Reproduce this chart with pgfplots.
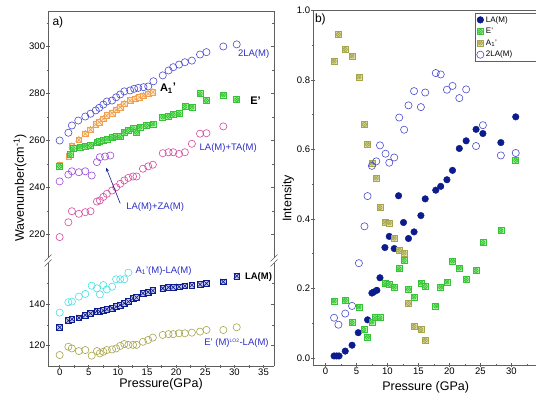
\documentclass[border=0pt]{standalone}
\usepackage{fontspec}
\setmainfont{Liberation Sans}
\usepackage{pgfplots}
\pgfplotsset{compat=1.18}

\definecolor{navy}{RGB}{12,28,140}
\definecolor{bluecirc}{RGB}{75,75,205}
\definecolor{labblue}{RGB}{45,45,200}
\definecolor{orng}{RGB}{240,160,80}
\definecolor{orngfill}{RGB}{253,235,212}
\definecolor{grn}{RGB}{55,195,55}
\definecolor{grnfill}{RGB}{170,245,160}
\definecolor{pinkc}{RGB}{210,75,155}
\definecolor{violc}{RGB}{155,75,215}
\definecolor{cyanc}{RGB}{70,225,225}
\definecolor{olivec}{RGB}{165,165,75}
\definecolor{olivefill}{RGB}{228,225,180}
\definecolor{lafill}{RGB}{200,200,238}
\definecolor{axgray}{RGB}{95,95,95}

% square with a cross
\pgfdeclareplotmark{sqx}{%
  \pgfpathrectangle{\pgfpoint{-\pgfplotmarksize}{-\pgfplotmarksize}}{\pgfpoint{2\pgfplotmarksize}{2\pgfplotmarksize}}%
  \pgfusepathqfillstroke
  \pgfpathmoveto{\pgfpoint{-\pgfplotmarksize}{-\pgfplotmarksize}}%
  \pgfpathlineto{\pgfpoint{\pgfplotmarksize}{\pgfplotmarksize}}%
  \pgfpathmoveto{\pgfpoint{-\pgfplotmarksize}{\pgfplotmarksize}}%
  \pgfpathlineto{\pgfpoint{\pgfplotmarksize}{-\pgfplotmarksize}}%
  \pgfusepathqstroke
}
% square with a crossed circle
\pgfdeclareplotmark{sqox}{%
  \pgfpathrectangle{\pgfpoint{-\pgfplotmarksize}{-\pgfplotmarksize}}{\pgfpoint{2\pgfplotmarksize}{2\pgfplotmarksize}}%
  \pgfusepathqfillstroke
  \pgfpathcircle{\pgfpointorigin}{0.72\pgfplotmarksize}%
  \pgfpathmoveto{\pgfpoint{-0.5\pgfplotmarksize}{-0.5\pgfplotmarksize}}%
  \pgfpathlineto{\pgfpoint{0.5\pgfplotmarksize}{0.5\pgfplotmarksize}}%
  \pgfpathmoveto{\pgfpoint{-0.5\pgfplotmarksize}{0.5\pgfplotmarksize}}%
  \pgfpathlineto{\pgfpoint{0.5\pgfplotmarksize}{-0.5\pgfplotmarksize}}%
  \pgfusepathqstroke
}

\tikzset{
  lab/.style={font=\fontsize{9.5}{11}\selectfont, text=labblue, inner sep=0pt, anchor=west},
}
\pgfplotsset{
  base/.style={
    scale only axis, anchor=south west, clip mode=individual,
    /pgf/number format/assume math mode=true,
    tick label style={font=\fontsize{9.5}{11}\selectfont, inner sep=1pt},
    label style={font=\fontsize{12.5}{14}\selectfont},
    axis line style={axgray, line width=0.8pt},
    tick style={axgray, line width=0.6pt},
    major tick length=3.5pt, minor tick length=2.5pt,
    tick align=outside,
  },
  circ/.style={only marks, mark=o, mark size=3.6pt, mark options={line width=0.6pt}},
}

\begin{document}
\begin{tikzpicture}
% the page is exactly this box; whatever lies outside it is cut off
\useasboundingbox (0,0) rectangle (536pt,394pt);

%% ---------- panel a), upper part ----------
\begin{axis}[base, at={(48pt,136pt)}, width=226pt, height=246.75pt,
  xmin=-2, xmax=36.8, ymin=210, ymax=315,
  axis x line=top, axis y line=left, axis line style={-},
  xtick=\empty, ytick={220,240,...,300}, minor ytick={230,250,...,310}]
\addplot[circ, bluecirc] coordinates {(0,260)(1.5,263.3)(2.1,266.4)(3.2,268.5)(4.4,270.2)(5.3,271.4)(6.2,272.8)(6.8,273.9)(7.5,275.3)(8.1,276.6)(9.0,277)(9.7,278.4)(10.4,279.6)(11.1,280.9)(12.1,281.3)(12.8,282)(13.5,282.4)(14.4,282.7)(15.2,283)(16.1,285.2)(17.7,287.7)(18.7,289.8)(19.5,291.2)(20.5,292.3)(21.5,293.3)(22.7,294)(24.1,296.6)(25.2,297.6)(28.1,300)(30.4,300.9)};
\addplot[only marks, mark=triangle, mark size=3.4pt, mark options={draw=orng, line width=0.6pt}] coordinates {(0,249.4)(1.6,253.2)(2.1,257.6)(3.3,260.3)(4.4,262.9)(5.3,264.6)(6.2,266.8)(6.8,267.8)(7.5,269.2)(8.1,270.6)(9.0,271.6)(9.7,273)(10.4,274.2)(11.1,275.6)(12.1,277)(13.0,277.7)(13.7,278.4)(14.4,279.1)(15.2,279.9)(16.0,280.6)};
\addplot[only marks, mark=sqx, mark size=2.8pt, mark options={draw=orng, fill=orngfill, line width=0.6pt}] coordinates {(0,249.4)(1.6,253.2)(2.1,257.6)(3.3,260.3)(4.4,262.9)(5.3,264.6)(6.2,266.8)(6.8,267.8)(7.5,269.2)(8.1,270.6)(9.0,271.6)(9.7,273)(10.4,274.2)(11.1,275.6)(12.1,277)(13.0,277.7)(13.7,278.4)(14.4,279.1)(15.2,279.9)(16.0,280.6)};
\addplot[only marks, mark=sqox, mark size=3pt, mark options={draw=grn, fill=grnfill, line width=0.6pt}] coordinates {(0,249)(1.8,254)(2.3,256.5)(3.5,257.2)(4.4,257.6)(5.3,257.9)(6.4,259.3)(6.8,259.6)(7.5,260.1)(8.1,260.7)(9.0,261.2)(9.7,261.6)(10.4,261.6)(11.1,263.5)(11.8,264.3)(12.6,265)(13.2,263.5)(13.8,265.7)(14.9,266.4)(16.0,267.1)(17.7,270)(18.7,270.3)(19.5,271.1)(20.5,271.4)(21.5,274.5)(22.7,274.2)(24.1,279.9)(25.2,277)(28.1,279.4)(30.4,277.4)};
\addplot[circ, pinkc] coordinates {(0,218.9)(1.5,225.2)(2.1,229.9)(3.3,228.8)(4.4,229.5)(5.3,229.9)(6.4,234)(6.9,234.5)(7.5,236)(8.1,237.3)(9.0,238.7)(9.7,240.1)(10.4,241.6)(11.1,243)(11.8,244.1)(12.6,244.7)(13.2,244.7)(14.3,248)(15.2,249)(16.0,249.7)(17.7,254.6)(18.7,255)(19.5,255)(20.5,254.3)(21.5,255)(22.7,258.6)(24.1,262.9)(25.2,263.1)(28.1,266)};
\addplot[circ, violc] coordinates {(0,242.6)(1.5,245.5)(2.1,246.9)(3.3,246.5)(4.4,246.9)(5.5,245.1)(6.4,250.8)(6.9,252.9)(7.8,253.2)(8.7,253.6)};
\draw[-stealth, navy, line width=0.6pt] (axis cs:10.4,233.2) -- (axis cs:8.0,248.3);
\node[lab, text=black, font=\fontsize{12}{14}\selectfont] at (axis cs:-1.25,310.2) {a)};
\node[lab] at (axis cs:30.6,296.6) {2LA(M)};
\node[lab, text=black, font=\bfseries\fontsize{11}{13}\selectfont] at (axis cs:17.2,282.3) {A\textsubscript{1}\raisebox{1.5pt}{'}};
\node[lab, text=black, font=\bfseries\fontsize{11}{13}\selectfont] at (axis cs:32.7,277) {E'};
\node[lab] at (axis cs:24,256.6) {LA(M)+TA(M)};
\node[lab] at (axis cs:11.4,231.6) {LA(M)+ZA(M)};
\end{axis}
\begin{axis}[base, at={(48pt,136pt)}, width=226pt, height=246.75pt,
  xmin=-2, xmax=36.8, ymin=210, ymax=315,
  axis x line=none, axis y line*=right, axis line style={-}, tick align=inside,
  xtick=\empty, ytick={220,240,...,300}, minor ytick={230,250,...,310}, yticklabels={}]
\end{axis}

%% ---------- panel a), lower part ----------
\begin{axis}[base, at={(48pt,27.6pt)}, width=226pt, height=103.5pt,
  xmin=-2, xmax=36.8, ymin=110, ymax=160,
  axis x line=bottom, axis y line=left, axis line style={-},
  xtick={0,5,...,35}, minor x tick num=1,
  ytick={120,140}, minor ytick={130,150},
  xlabel={Pressure(GPa)},
  xlabel style={at={(axis description cs:0.5,0)}, anchor=center, yshift=-17.6pt}]
\addplot[circ, cyanc] coordinates {(0,136)(1.5,141)(2.1,141.3)(3.3,143.7)(4.4,145)(5.5,149)(6.4,147.7)(6.9,144.8)(7.5,149.3)(8.1,147.2)(9.0,148.5)(9.7,152.1)(10.4,152.1)(11.1,152.1)(11.8,155.3)};
\addplot[only marks, mark=sqx, mark size=2.9pt, mark options={draw=navy, fill=lafill, line width=0.6pt}] coordinates {(0,128.9)(1.5,132.1)(2.1,132.8)(3.3,133.5)(4.4,134.8)(5.3,135.6)(6.4,136.8)(6.9,136.5)(7.5,137)(8.1,137.6)(9.0,138.1)(9.7,138.9)(10.4,139.7)(11.1,140.5)(11.8,141.3)(12.6,142.9)(13.2,143.3)(14.3,145.3)(15.2,145.9)(16.0,146.6)(17.7,147.7)(18.7,148.2)(19.5,148.2)(20.5,148.5)(21.5,148.9)(22.7,149.3)(24.1,149.6)(25.2,150.1)(28.1,150.9)(30.4,153.7)};
\addplot[circ, olivec] coordinates {(0,115.5)(1.5,119.5)(2.1,118.7)(3.3,117.4)(4.4,117.9)(5.5,115.2)(6.4,117.4)(6.9,116.3)(7.5,117.1)(8.1,117.9)(9.0,118.2)(9.7,118.7)(10.4,119.9)(11.1,120.8)(11.8,120.4)(12.6,120.4)(13.2,120.4)(14.3,121.9)(15.2,122.8)(16.0,123.9)(17.7,125.2)(18.7,125.6)(19.5,125.6)(20.5,126)(21.5,126)(22.7,126.3)(24.1,126.8)(25.2,127.6)(28.1,127.6)(30.4,128.9)};
\node[lab] at (axis cs:13,156.1) {A\textsubscript{1}'(M)-LA(M)};
\node[lab, text=black, font=\bfseries\fontsize{9.5}{11}\selectfont] at (axis cs:31.8,153) {LA(M)};
\node[lab] at (axis cs:24.8,121.2) {E' (M)\textsuperscript{\fontsize{5}{6}\selectfont LO2}-LA(M)};
\end{axis}
\begin{axis}[base, at={(48pt,27.6pt)}, width=226pt, height=103.5pt,
  xmin=-2, xmax=36.8, ymin=110, ymax=160,
  axis x line=none, axis y line*=right, axis line style={-}, tick align=inside,
  xtick=\empty, ytick={120,140}, minor ytick={130,150}, yticklabels={}]
\end{axis}

% axis breaks
\foreach \bx in {48,274}{
  \fill[white] (\bx pt-1pt,131.2pt) rectangle (\bx pt+1pt,135.8pt);
  \draw[axgray, line width=0.7pt] (\bx pt-3.5pt,127.5pt) -- (\bx pt+3.5pt,134.5pt);
  \draw[axgray, line width=0.7pt] (\bx pt-3.5pt,132.5pt) -- (\bx pt+3.5pt,139.5pt);
}
\node[rotate=90, font=\fontsize{12.5}{14}\selectfont, inner sep=0pt] at (20pt,206pt) {Wavenumber(cm\textsuperscript{-1})};

%% ---------- panel b) ----------
% top frame line
\begin{axis}[base, at={(313pt,29pt)}, width=241.8pt, height=354.5pt,
  xmin=-2, xmax=37, ymin=-0.02, ymax=1.0,
  axis x line*=top, axis y line=none, axis line style={-}, xtick=\empty, ytick=\empty]
\end{axis}
\begin{axis}[base, at={(313pt,29pt)}, width=241.8pt, height=354.5pt,
  xmin=-2, xmax=37, ymin=-0.02, ymax=1.0,
  axis x line=bottom, axis y line=left, axis line style={-},
  xtick=\empty,
  ytick={0,0.2,0.4,0.6,0.8,1.0}, minor ytick={0.1,0.3,0.5,0.7,0.9},
  yticklabel style={/pgf/number format/.cd, fixed, fixed zerofill, precision=1},
  xlabel={Pressure (GPa)}, ylabel={Intensity},
  xlabel style={at={(axis description cs:0.466,0)}, anchor=center, yshift=-22pt},
  ylabel style={at={(axis description cs:-0.103,0.47)}, anchor=center},
  legend cell align=left,
  legend style={at={(axis description cs:0.672,0.993)}, anchor=north west,
    font=\fontsize{8}{9}\selectfont, draw=axgray, line width=0.5pt,
    inner sep=1pt, row sep=0.5pt, cells={text width=48pt}}]
\addplot[only marks, mark=*, mark size=3.3pt, mark options={draw=navy, fill=navy}] coordinates {(1.4,0.006)(1.8,0.006)(2.2,0.006)(3.2,0.02)(4.3,0.037)(5.3,0.073)(6.3,0.082)(6.8,0.11)(7.5,0.187)(7.8,0.19)(8.3,0.195)(8.8,0.231)(9.6,0.318)(10.3,0.35)(11.1,0.315)(11.8,0.467)(12.6,0.39)(13.4,0.344)(14.3,0.363)(15.4,0.41)(16.1,0.458)(17.8,0.483)(18.6,0.494)(19.6,0.513)(20.5,0.54)(21.6,0.603)(22.7,0.625)(24.3,0.658)(25.4,0.646)(28.3,0.62)(30.7,0.694)};
\addlegendentry{LA(M)}
\addplot[only marks, mark=sqox, mark size=3pt, mark options={draw=grn, fill=grnfill, line width=0.6pt}] coordinates {(1.4,0.164)(3.2,0.166)(4.3,0.102)(5.4,0.147)(6.2,0.082)(6.8,0.06)(7.5,0.104)(8.0,0.116)(8.8,0.116)(9.6,0.214)(10.3,0.212)(11.1,0.204)(11.9,0.257)(12.7,0.281)(13.4,0.198)(14.3,0.176)(15.4,0.216)(16.1,0.206)(17.8,0.15)(18.6,0.204)(19.6,0.219)(20.5,0.279)(21.6,0.259)(22.7,0.226)(24.3,0.252)(25.4,0.332)(28.3,0.367)(30.7,0.569)};
\addlegendentry{E'}
\addplot[only marks, mark=sqox, mark size=3pt, mark options={draw=olivec, fill=olivefill, line width=0.6pt}] coordinates {(1.4,0.854)(2.1,0.931)(3.2,0.888)(4.3,0.869)(5.4,0.809)(6.3,0.672)(6.8,0.615)(7.5,0.561)(8.2,0.518)(8.8,0.433)(9.6,0.391)(10.3,0.389)(11.1,0.345)(11.9,0.31)(12.7,0.302)(13.4,0.157)(14.3,0.091)(15.4,0.082)(16.1,0.051)};
\addlegendentry{A\textsubscript{1}'}
\addplot[circ, bluecirc] coordinates {(1.4,0.116)(2.1,0.096)(3.2,0.128)(4.3,0.15)(5.4,0.273)(6.3,0.379)(6.8,0.466)(7.5,0.553)(8.2,0.566)(8.8,0.612)(9.7,0.588)(10.3,0.562)(11.1,0.577)(11.9,0.692)(12.7,0.657)(13.4,0.727)(14.3,0.768)(15.4,0.722)(16.1,0.764)(17.8,0.82)(18.6,0.816)(19.6,0.772)(20.5,0.783)(21.6,0.748)(22.7,0.773)(24.3,0.61)(25.4,0.67)(28.3,0.583)(30.7,0.59)};
\addlegendentry{2LA(M)}
\node[lab, text=black, font=\fontsize{12}{14}\selectfont] at (axis cs:-1.7,0.974) {b)};
\end{axis}
% pressure scale of panel b), drawn last on top of everything
\begin{axis}[base, clip=false, at={(313pt,29pt)}, width=241.8pt, height=103.5pt,
  xmin=-2, xmax=37, ymin=0, ymax=1,
  axis x line=bottom, axis y line=none, axis line style={-},
  xtick={0,5,...,35}, minor x tick num=1, ytick=\empty]
\end{axis}
\end{tikzpicture}
\end{document}
